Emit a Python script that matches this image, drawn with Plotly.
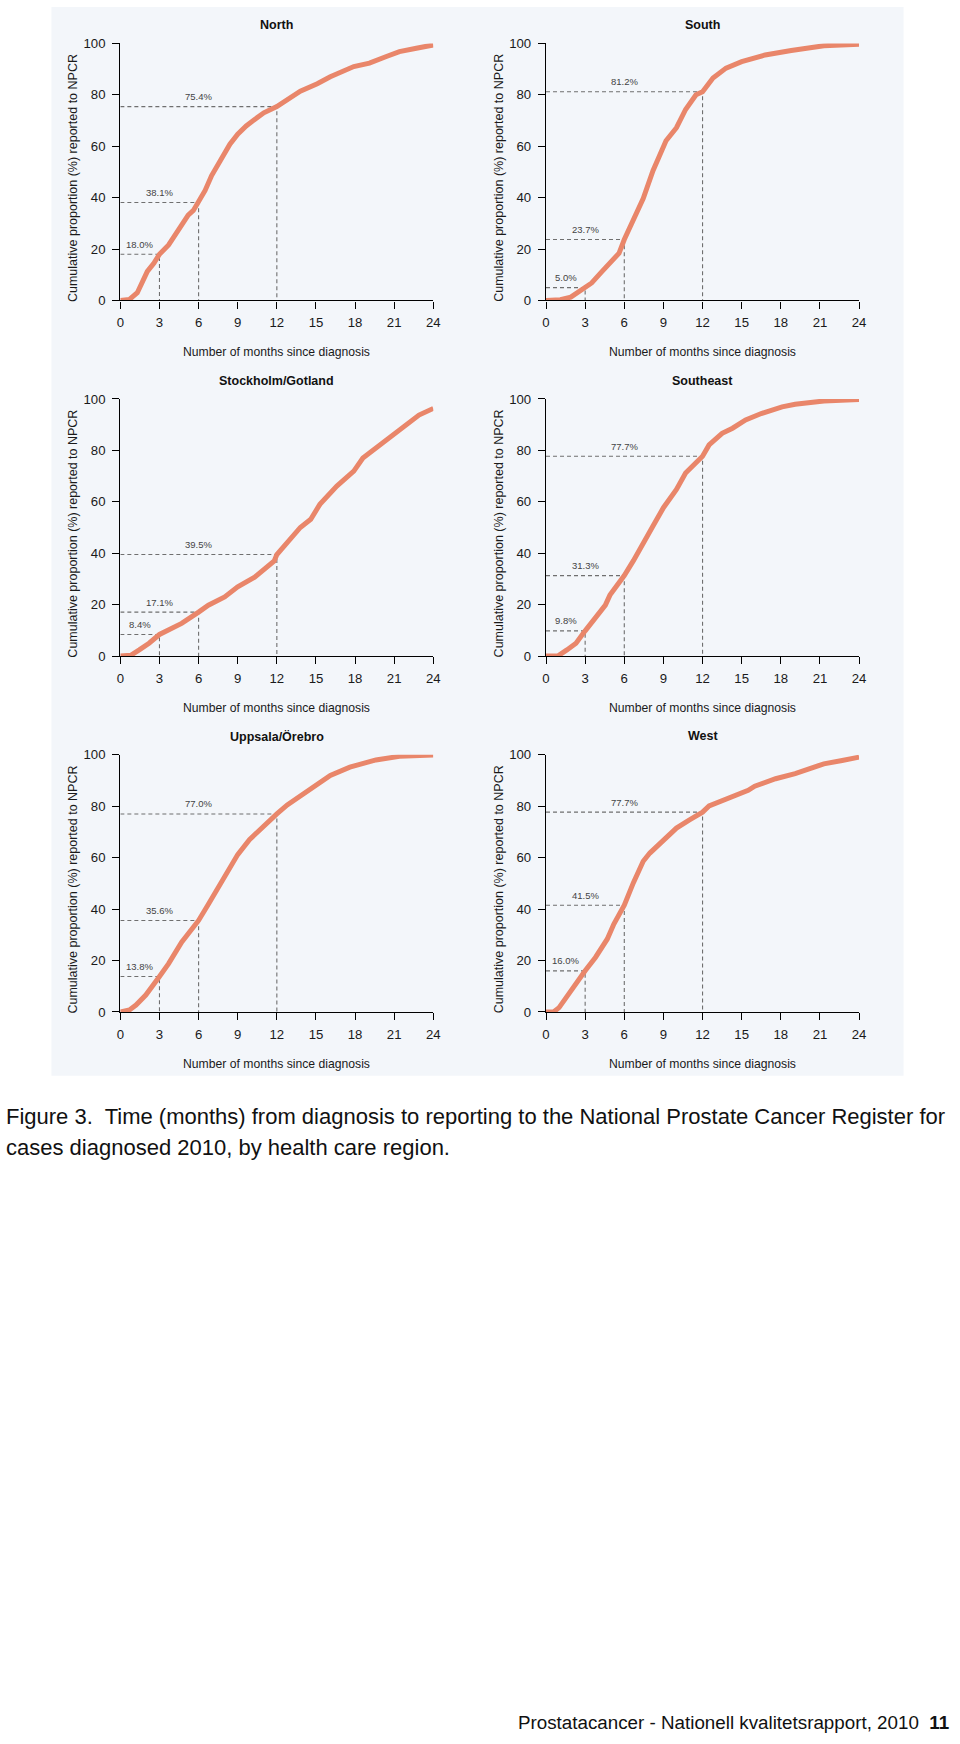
import plotly.graph_objects as go

# ---------------- data ----------------
regions = ["North", "South", "Stockholm/Gotland", "Southeast", "Uppsala/Örebro", "West"]

months_north = [0, 0.7, 1.3, 1.7, 2.07, 2.58, 3, 3.7, 4.2, 4.7, 5.2, 5.6, 6, 6.5, 7, 7.5, 8, 8.4, 9, 9.65,
                10.3, 11, 12, 12.8, 13.8, 15.1, 16.1, 17.9, 19.1, 20.4, 21.4, 22.7, 24]
pct_north = [0, 0.4, 3, 7.5, 11.3, 14.5, 18, 21.6, 25.4, 30, 33.2, 35, 38.1, 42.8, 48.6, 53, 57, 60.8, 64.7, 67.9,
             70.4, 73, 75.4, 78.1, 81.4, 84.3, 87, 91, 92.3, 94.9, 96.8, 98.1, 99.4]

months_south = [0, 1.1, 1.9, 2.4, 3, 3.5, 4.3, 5.2, 5.6, 6, 6.7, 7.45, 8.2, 8.8, 9.2, 10, 10.7, 11.5, 12,
                12.8, 13.8, 15, 16.8, 18.8, 20.1, 21.3, 24]
pct_south = [0, 0.3, 1.3, 3, 5, 6.8, 11.3, 15.8, 18.4, 23.7, 31.9, 39.6, 50.5, 57, 62.1, 67.2, 74.3, 80, 81.2,
             86.5, 90.4, 92.9, 95.5, 97.2, 98.1, 99.1, 99.7]

months_stockholm = [0, 0.8, 1.45, 2.2, 3, 4, 4.7, 6, 6.75, 8, 9, 10.3, 11.3, 11.8, 12, 12.8, 13.8, 14.6, 15.3,
                    16.6, 17.9, 18.6, 19.6, 20.6, 21.7, 22.2, 22.9, 24]
pct_stockholm = [0, 0.3, 2.4, 5, 8.4, 10.8, 12.7, 17.1, 19.8, 23, 26.9, 30.7, 34.6, 37, 39.5, 44.2, 50, 53.2, 59,
                 66.1, 71.9, 77, 80.8, 84.7, 88.6, 91.1, 93.7, 96.3]

months_southeast = [0, 0.9, 1.6, 2.3, 3, 3.9, 4.55, 4.9, 5.4, 6, 6.7, 7.45, 8.2, 9, 10, 10.7, 12, 12.5, 13.5,
                    14.3, 15.3, 16.5, 18.1, 19.1, 21.3, 24]
pct_southeast = [0, 0, 2.4, 5, 9.8, 15.3, 19.8, 23.7, 26.9, 31.3, 37.1, 44.2, 50.6, 57.7, 64.8, 71.2, 77.7, 82.1,
                 86.6, 88.6, 91.8, 94.3, 96.9, 97.9, 99.2, 99.8]

months_uppsala = [0, 0.7, 1.2, 1.95, 3, 3.7, 4.7, 6, 6.75, 7.5, 8.3, 9, 9.9, 10.8, 12, 12.8, 14.1, 15.1, 16.1,
                  17.6, 19.6, 21.4, 24]
pct_uppsala = [0, 0.8, 2.7, 6.6, 13.8, 18.8, 27.1, 35.6, 41.9, 48.3, 54.8, 61.2, 67, 71.5, 77, 80.5, 85, 88.2, 92,
               95.2, 98, 99.4, 99.9]

months_west = [0, 0.6, 1, 1.5, 2.15, 3, 3.8, 4.7, 5.2, 6, 6.7, 7.45, 7.96, 9, 10, 11, 12, 12.5, 13.3, 14.8,
               15.5, 16, 17.6, 19.1, 20.1, 21.3, 22.7, 24]
pct_west = [0, 0.1, 1.7, 5.3, 10.4, 16, 21.3, 28.4, 34.2, 41.5, 50.3, 58.6, 61.8, 67, 71.5, 74.7, 77.7, 80.1,
            81.7, 85, 86.2, 87.8, 90.7, 92.7, 94.6, 96.5, 97.8, 99.1]

mark_months = [3, 6, 12]
mark_north = [18.0, 38.1, 75.4]
mark_south = [5.0, 23.7, 81.2]
mark_stockholm = [8.4, 17.1, 39.5]
mark_southeast = [9.8, 31.3, 77.7]
mark_uppsala = [13.8, 35.6, 77.0]
mark_west = [16.0, 41.5, 77.7]

x_ticks = [0, 3, 6, 9, 12, 15, 18, 21, 24]
y_ticks = [0, 20, 40, 60, 80, 100]

x_title = "Number of months since diagnosis"
y_title = "Cumulative proportion (%) reported to NPCR"
caption_lines = ["Figure 3.  Time (months) from diagnosis to reporting to the National Prostate Cancer Register for",
                 "cases diagnosed 2010, by health care region."]
footer = "Prostatacancer - Nationell kvalitetsrapport, 2010  <b>11</b>"

curves = [
    (months_north, pct_north, mark_north),
    (months_south, pct_south, mark_south),
    (months_stockholm, pct_stockholm, mark_stockholm),
    (months_southeast, pct_southeast, mark_southeast),
    (months_uppsala, pct_uppsala, mark_uppsala),
    (months_west, pct_west, mark_west),
]

# ---------------- layout geometry (pixels) ----------------
W, H = 960, 1744
col_x = [(117.7, 434.3), (548.3, 865.0)]
row_y = [(36.7, 296.0), (395.3, 654.7), (754.3, 1013.7)]


def px(x):
    return x / W


def py(y):
    return 1 - y / H


CURVE = "#E9866A"
DASH = "#6f6f6f"
FONT = "Liberation Sans, Arial, sans-serif"

fig = go.Figure()
layout = dict(
    width=W, height=H,
    margin=dict(l=0, r=0, t=0, b=0),
    paper_bgcolor="white",
    plot_bgcolor="rgba(0,0,0,0)",
    showlegend=False,
    font=dict(family=FONT, color="#1a1a1a"),
    shapes=[dict(type="rect", xref="paper", yref="paper", x0=px(48), x1=px(910), y0=py(1078), y1=py(0),
                 fillcolor="#F3F6FA", line=dict(width=0), layer="below")],
    annotations=[],
)


def paper_text(x, y, text, size, color="#1a1a1a", xanchor="center", angle=0):
    return dict(x=px(x), y=py(y), xref="paper", yref="paper", text=text, showarrow=False,
                xanchor=xanchor, yanchor="middle", textangle=angle,
                font=dict(family=FONT, size=size, color=color))


for i, (region, (mx, my, marks)) in enumerate(zip(regions, curves)):
    r, c = divmod(i, 2)
    n = i + 1
    xa = "x" if n == 1 else f"x{n}"
    ya = "y" if n == 1 else f"y{n}"
    xl = "xaxis" if n == 1 else f"xaxis{n}"
    yl = "yaxis" if n == 1 else f"yaxis{n}"
    x0p, x1p = col_x[c]
    y0p, y1p = row_y[r]
    axis_common = dict(showline=True, linecolor="black", linewidth=1.4, ticks="outside", ticklen=7,
                       tickwidth=1.4, tickcolor="black", showgrid=False, zeroline=False,
                       tickfont=dict(family=FONT, size=13.2, color="#1a1a1a"), fixedrange=True)
    layout[xl] = dict(axis_common, domain=[px(x0p), px(x1p)], range=[0, 24], tickvals=x_ticks,
                      anchor=ya, ticklabelstandoff=3)
    layout[yl] = dict(axis_common, domain=[py(y1p), py(y0p)], range=[0, 100], tickvals=y_ticks,
                      anchor=xa, ticklabelstandoff=4)

    # dashed reference lines
    for t, v in zip(mark_months, marks):
        fig.add_trace(go.Scatter(x=[0, t, t], y=[v, v, 0], mode="lines", xaxis=xa, yaxis=ya,
                                 line=dict(color=DASH, width=1.1, dash="4px,3px"), hoverinfo="skip"))
        layout["annotations"].append(dict(x=t / 2, y=v, xref=xa, yref=ya, text=f"{v:.1f}%", showarrow=False,
                                          xanchor="center", yanchor="middle", yshift=10,
                                          font=dict(family=FONT, size=9.5, color="#444444")))
    # curve
    fig.add_trace(go.Scatter(x=mx, y=my, mode="lines", xaxis=xa, yaxis=ya,
                             line=dict(color=CURVE, width=5), hoverinfo="skip"))

    cx = (x0p + x1p) / 2
    layout["annotations"].append(paper_text(cx, y0p - 18.5, f"<b>{region}</b>", 12.5, "#111111"))
    layout["annotations"].append(paper_text(cx, y1p + 52, x_title, 12.2))
    ytx = 70 if c == 0 else 500.7
    layout["annotations"].append(paper_text(ytx, (y0p + y1p) / 2 + 6, y_title, 12.5, angle=-90))

# caption
for k, line in enumerate(caption_lines):
    layout["annotations"].append(paper_text(0, 1119 + 31.5 * k, line, 22, "#111111", xanchor="left"))
layout["annotations"].append(paper_text(958, 1730, footer, 18.8, "#111111", xanchor="right"))

fig.update_layout(**layout)
fig.write_html("out.html", config={"displayModeBar": False},
               post_script="document.body.style.margin='0';document.body.style.overflow='hidden';window.scrollTo(0,0);")
